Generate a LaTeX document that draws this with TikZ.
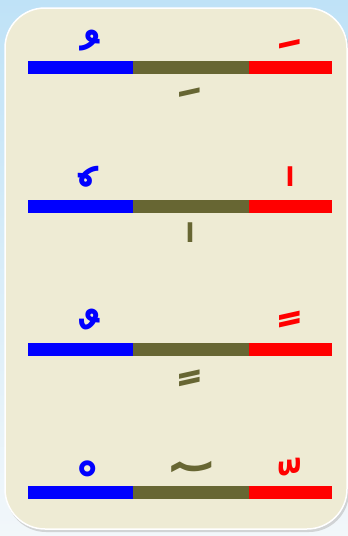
\documentclass[tikz,border=0pt]{standalone}
\usepackage{fontspec}
\usepackage{xcolor}
\usepackage{tikz}
\usetikzlibrary{positioning}
\newfontfamily\arabicfont[Script=Arabic]{DejaVu Sans}
\TeXXeTstate=1
\definecolor{skytop}{HTML}{BFE2F7}
\definecolor{skybot}{HTML}{F2F7FA}
\definecolor{card}{HTML}{EEEBD4}
\definecolor{hblue}{HTML}{0000FF}
\definecolor{holive}{HTML}{676633}
\definecolor{hred}{HTML}{FF0000}
\tikzset{
  seg/.style={fill=#1, draw=none, minimum height=13pt, inner sep=0pt, outer sep=0pt},
  haraka/.style={text=#1, inner sep=0pt, text height=0pt, text depth=0pt,
    font=\arabicfont\bfseries\fontsize{72}{72}\selectfont},
  sukun/.style={haraka=#1, font=\arabicfont\bfseries\fontsize{60}{60}\selectfont},
  shadda/.style={haraka=#1, font=\arabicfont\bfseries\fontsize{66}{66}\selectfont},
  madda/.style={haraka=#1, xscale=1.4, font=\arabicfont\bfseries\fontsize{75}{75}\selectfont},
  alif/.style={text=#1, inner sep=0pt, font=\arabicfont\bfseries\fontsize{26}{26}\selectfont},
}
% one row of three bars: blue | olive | red
\newcommand{\tribar}[2]{%
  \node[seg=hblue, minimum width=105pt, anchor=west] (#2b) at (28,#1) {};
  \node[seg=holive, minimum width=116pt, right=0pt of #2b] (#2o) {};
  \node[seg=hred, minimum width=83pt, right=0pt of #2o] (#2r) {};}

\begin{document}
\begin{tikzpicture}[x=1pt,y=-1pt]
  \useasboundingbox (0,0) rectangle (348,536);
  \shade[top color=skytop, bottom color=skybot] (0,0) rectangle (348,536);
  \fill[gray!60, opacity=0.5, rounded corners=40pt] (6,11) rectangle (349,532);
  \draw[white, line width=1.5pt, fill=card, rounded corners=40pt] (5,8) rectangle (347,529);

  \tribar{67.5}{one}
  \tribar{206.5}{two}
  \tribar{349.5}{three}
  \tribar{492.5}{four}

  % damma / fatha / kasra
  \node[haraka=hblue] (u1) at (90,93) {\beginR ^^^^fe78\endR};
  \node[haraka=hred] (a1) at (290,91) {\beginR ^^^^fe76\endR};
  \node[haraka=holive] (i1) at (190,87) {\beginR ^^^^fe7a\endR};
  % inverted damma / alif
  \node[haraka=hblue] (u2) at (83.5,231.5) {\beginR ^^^^00a0^^^^0657\endR};
  \node[alif=hred] (a2) at (290,177) {\beginR ^^^^0627\endR};
  \node[alif=holive] (i2) at (190,233) {\beginR ^^^^0627\endR};
  % tanwin
  \node[haraka=hblue] (u3) at (90,372) {\beginR ^^^^fe72\endR};
  \node[haraka=hred] (a3) at (290,370) {\beginR ^^^^fe70\endR};
  \node[haraka=holive] (i3) at (190,369) {\beginR ^^^^fe74\endR};
  % sukun / madda / shadda
  \node[sukun=hblue] (s4) at (88,513) {\beginR ^^^^fe7e\endR};
  \node[madda=holive] (m4) at (184,516) {\beginR ^^^^00a0^^^^0653\endR};
  \node[shadda=hred] (d4) at (290,515) {\beginR ^^^^fe7c\endR};
\end{tikzpicture}
\end{document}
